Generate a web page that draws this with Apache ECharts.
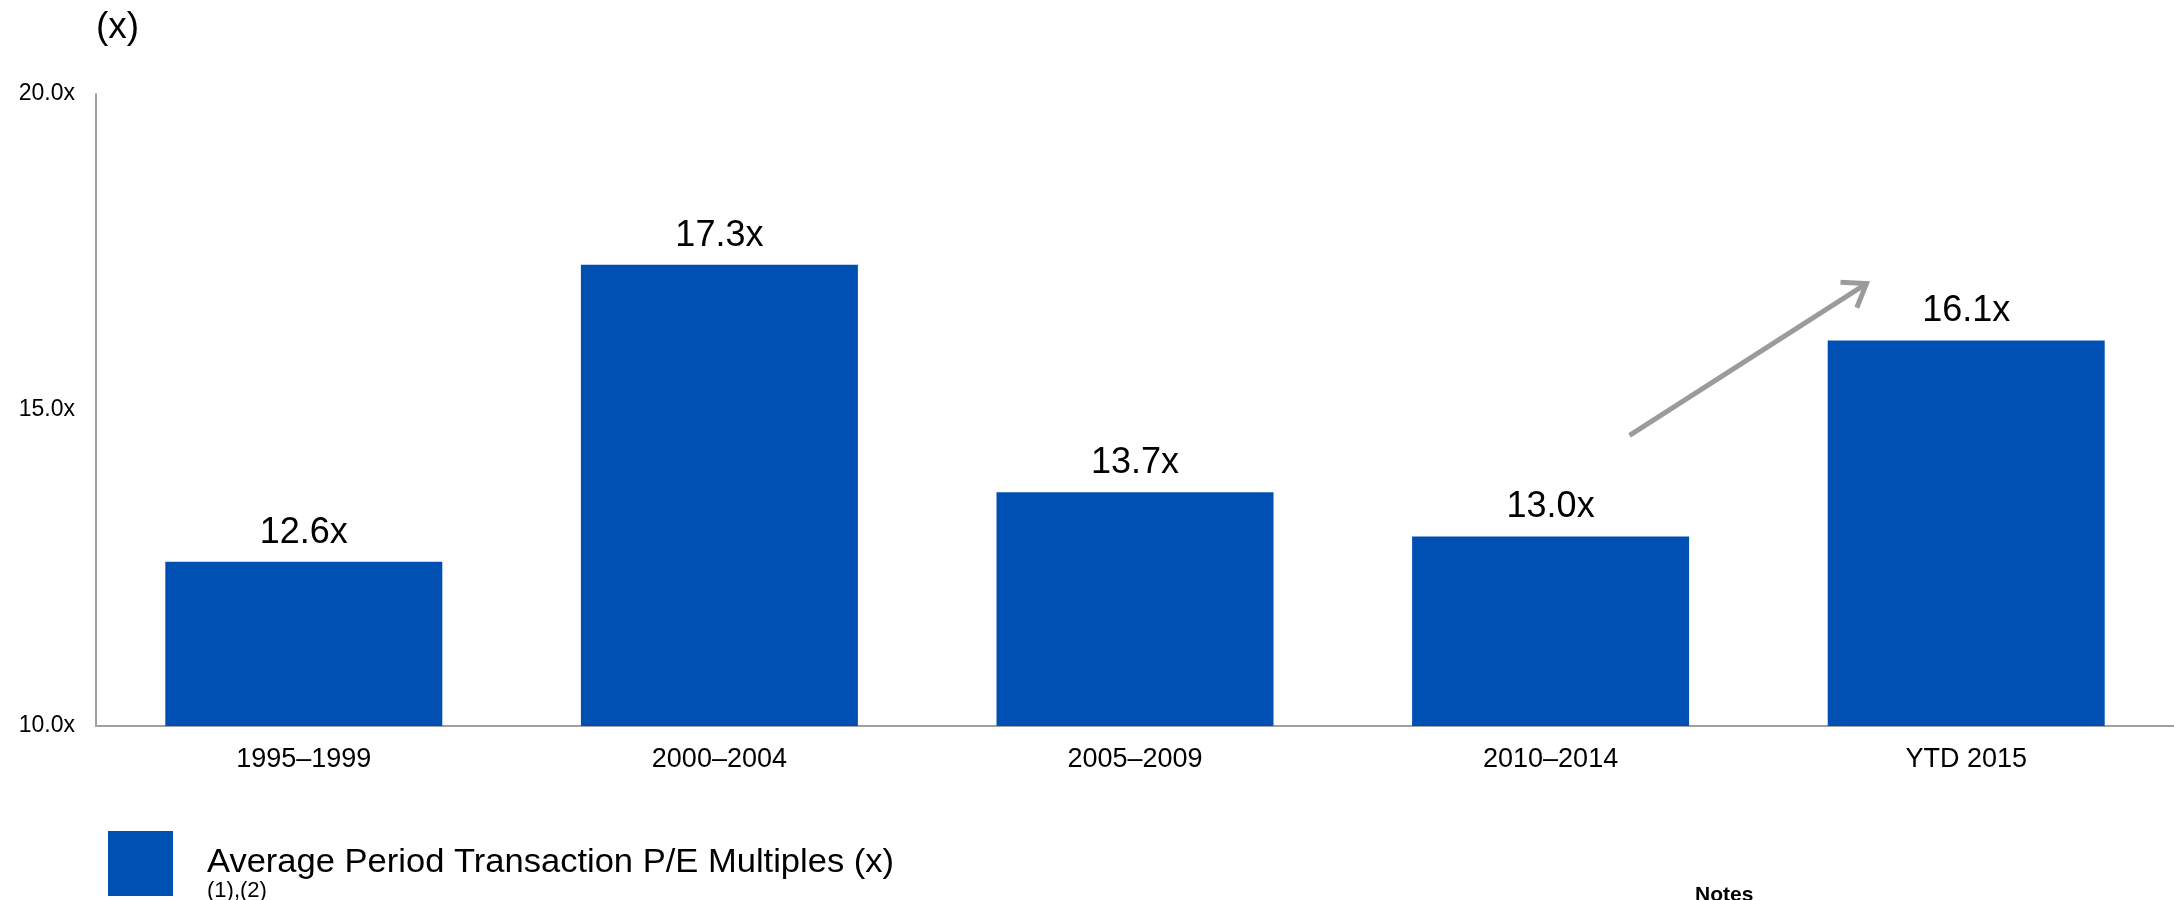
<!DOCTYPE html>
<html>
<head>
<meta charset="utf-8">
<script src="https://cdn.jsdelivr.net/npm/echarts@6/dist/echarts.min.js"></script>
<style>
  html, body { margin: 0; padding: 0; background: #ffffff; }
  #chart { width: 2174px; height: 900px; }
</style>
</head>
<body>
<div id="chart"></div>
<script>
// ---- Data ----
const categories = ['1995–1999', '2000–2004', '2005–2009', '2010–2014', 'YTD 2015'];
const peMultiples = [12.6, 17.3, 13.7, 13.0, 16.1];
const yAxisMin = 10;
const yAxisMax = 20;
const yAxisStep = 5;
const seriesName = 'Average Period Transaction P/E Multiples (x)';
const seriesNote = '(1),(2)';
const unitLabel = '(x)';
const notesLabel = 'Notes';
// Trend arrow annotation endpoints, in data units [category index, value]
const arrowFrom = [3.19, 14.6];
const arrowTo = [3.76, 17.0];

// ---- Style ----
const FONT = '"Liberation Sans", Arial, sans-serif';
const BAR_COLOR = '#0050B4';
const AXIS_COLOR = '#a0a0a0';
const ARROW_COLOR = '#9b9b9b';

const chart = echarts.init(document.getElementById('chart'), null, { renderer: 'canvas' });

function measure(text, font) {
  const c = document.createElement('canvas').getContext('2d');
  c.font = font;
  return c.measureText(text).width;
}
const legendFontSize = 34;
const legendScale = 687 / measure(seriesName, legendFontSize + 'px ' + FONT);

chart.setOption({
  animation: false,
  backgroundColor: '#ffffff',
  textStyle: { fontFamily: FONT, color: '#000' },
  grid: { left: 96, right: 0, top: 94, bottom: 174, containLabel: false },
  xAxis: {
    type: 'category',
    data: categories,
    axisTick: { show: false },
    axisLine: { lineStyle: { color: AXIS_COLOR, width: 2 } },
    axisLabel: { color: '#000', fontSize: 27, fontFamily: FONT, margin: 20 }
  },
  yAxis: {
    type: 'value',
    min: yAxisMin,
    max: yAxisMax,
    interval: yAxisStep,
    splitLine: { show: false },
    axisTick: { show: false },
    axisLine: { show: true, lineStyle: { color: AXIS_COLOR, width: 2 } },
    axisLabel: {
      color: '#000', fontSize: 23, fontFamily: FONT, margin: 21,
      formatter: v => v.toFixed(1) + 'x'
    }
  },
  series: [{
    name: seriesName,
    type: 'bar',
    data: peMultiples,
    barCategoryGap: '33.35%',
    itemStyle: { color: BAR_COLOR },
    label: {
      show: true,
      position: 'top',
      distance: 11,
      color: '#000',
      fontSize: 36,
      fontFamily: FONT,
      formatter: p => p.value.toFixed(1) + 'x'
    }
  }]
});

// ---- Annotations ----
const x3 = chart.convertToPixel({ xAxisIndex: 0 }, 3);
const x4 = chart.convertToPixel({ xAxisIndex: 0 }, 4);
function toPx(pt) {
  const base = Math.floor(pt[0]);
  const xa = chart.convertToPixel({ xAxisIndex: 0 }, base);
  const step = x4 - x3;
  return [xa + (pt[0] - base) * step, chart.convertToPixel({ yAxisIndex: 0 }, pt[1])];
}
const p0 = toPx(arrowFrom);
const p1 = toPx(arrowTo);
const ang = Math.atan2(p1[1] - p0[1], p1[0] - p0[0]);
const armLen = 26, armAng = 0.62;
const armA = [p1[0] - armLen * Math.cos(ang - armAng), p1[1] - armLen * Math.sin(ang - armAng)];
const armB = [p1[0] - armLen * Math.cos(ang + armAng), p1[1] - armLen * Math.sin(ang + armAng)];

chart.setOption({
  graphic: [
    {
      type: 'text', x: 96, y: 28,
      style: { text: unitLabel, font: '37px ' + FONT, fill: '#000', textAlign: 'left', textVerticalAlign: 'middle' }
    },
    {
      type: 'rect', shape: { x: 108, y: 831, width: 65, height: 65 },
      style: { fill: BAR_COLOR }
    },
    {
      type: 'text', x: 207, y: 863, scaleX: legendScale,
      style: { text: seriesName, font: legendFontSize + 'px ' + FONT, fill: '#000', textAlign: 'left', textVerticalAlign: 'middle' }
    },
    {
      type: 'text', x: 207, y: 891,
      style: { text: seriesNote, font: '22px ' + FONT, fill: '#000', textAlign: 'left', textVerticalAlign: 'middle' }
    },
    {
      type: 'text', x: 1695, y: 895,
      style: { text: notesLabel, font: 'bold 21px ' + FONT, fill: '#000', textAlign: 'left', textVerticalAlign: 'middle' }
    },
    {
      type: 'polyline', shape: { points: [p0, p1] },
      style: { stroke: ARROW_COLOR, lineWidth: 5, fill: null, lineCap: 'butt' }
    },
    {
      type: 'polyline', shape: { points: [armA, p1, armB] },
      style: { stroke: ARROW_COLOR, lineWidth: 5, fill: null, lineJoin: 'miter', lineCap: 'butt' }
    }
  ]
});
</script>
</body>
</html>
